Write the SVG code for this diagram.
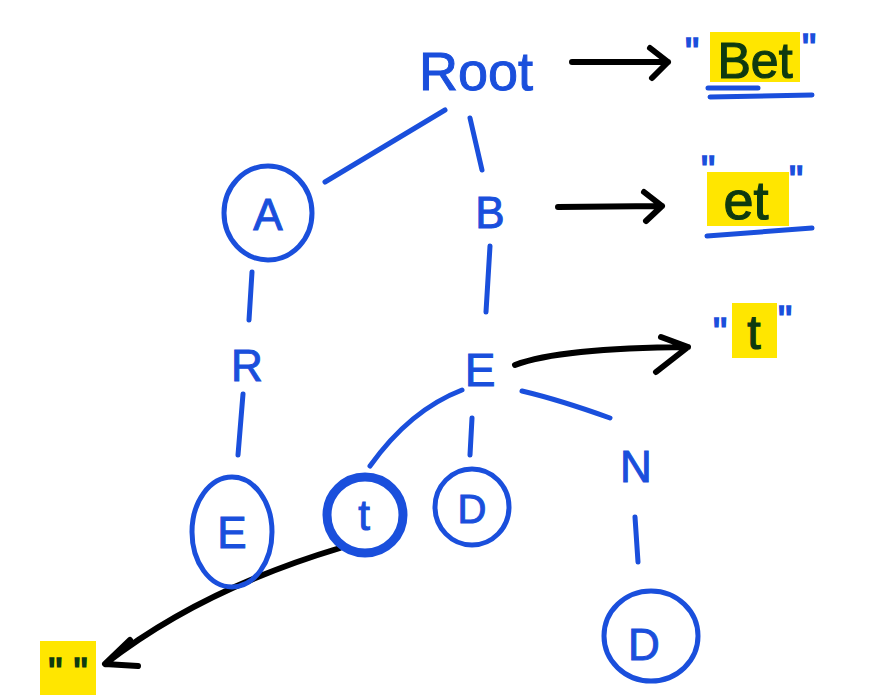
<svg xmlns="http://www.w3.org/2000/svg" width="874" height="698" viewBox="0 0 874 698">
<style>
.ink{fill:none;stroke:#1a4fdc;stroke-width:5;stroke-linecap:round;stroke-linejoin:round}
.thick{fill:none;stroke:#1a4fdc;stroke-width:9}
.blk{fill:none;stroke:#000;stroke-width:6;stroke-linecap:round;stroke-linejoin:round}
.lbl{font-family:"Liberation Sans",Arial,sans-serif;fill:#1a4fdc;stroke:#1a4fdc;stroke-width:1;text-anchor:middle}
.res{font-family:"Liberation Sans",Arial,sans-serif;fill:#0e3a10;stroke:#0e3a10;stroke-width:1.2;text-anchor:middle}
.q{font-family:"Liberation Sans",Arial,sans-serif;fill:#1a4fdc;stroke:#1a4fdc;stroke-width:1.5;text-anchor:middle;font-size:40px}
.hl{fill:#ffe600}
</style>
<rect width="874" height="698" fill="#fff"/>
<g id="connectors">
<path class="ink" d="M445 110 L325 182"/>
<path class="ink" d="M470 118 L482 170"/>
<path class="ink" d="M252 272 L249 320"/>
<path class="ink" d="M490 246 L486 312"/>
<path class="ink" d="M243 394 L238 455"/>
<path class="ink" d="M462 390 Q410 410 370 466"/>
<path class="ink" d="M472 418 L470 455"/>
<path class="ink" d="M522 391 Q560 400 610 418"/>
<path class="ink" d="M635 517 L638 562"/>
<path class="blk" d="M572 62 L668 62 M650 48 L668 62 L652 78"/>
<path class="blk" d="M558 207 L662 206 M644 192 L662 206 L646 221"/>
<path class="blk" d="M515 365 Q560 348 688 347 M661 337 L688 347 L656 372"/>
<path class="blk" d="M340 548 Q200 590 105 664 M130 640 L105 664 L138 666"/>
</g>
<g id="node-root"><text class="lbl" x="476" y="90" font-size="54">Root</text></g>
<g id="node-a"><ellipse class="ink" cx="268" cy="213" rx="44" ry="47"/><text class="lbl" x="268" y="230" font-size="44">A</text></g>
<g id="node-b"><text class="lbl" x="490" y="228" font-size="44">B</text></g>
<g id="node-r"><text class="lbl" x="247" y="381" font-size="44">R</text></g>
<g id="node-e"><text class="lbl" x="480" y="386" font-size="46">E</text></g>
<g id="node-e2"><ellipse class="ink" cx="232" cy="532" rx="40" ry="55"/><text class="lbl" x="232" y="548" font-size="44">E</text></g>
<g id="node-t"><ellipse class="thick" cx="365" cy="515" rx="38" ry="38"/><text class="lbl" x="364" y="530" font-size="42">t</text></g>
<g id="node-d"><ellipse class="ink" cx="472" cy="507" rx="37" ry="38"/><text class="lbl" x="472" y="523" font-size="40">D</text></g>
<g id="node-n"><text class="lbl" x="636" y="482" font-size="44">N</text></g>
<g id="node-d2"><ellipse class="ink" cx="651" cy="636" rx="47" ry="45"/><text class="lbl" x="644" y="660" font-size="44">D</text></g>
<g id="out-bet">
<rect class="hl" x="710" y="32" width="90" height="50"/>
<text class="res" x="755" y="78" font-size="50">Bet</text>
<text class="q" x="692" y="66">"</text><text class="q" x="809" y="62">"</text>
<path class="ink" d="M708 88 L758 88 M710 97 L812 95"/>
</g>
<g id="out-et">
<rect class="hl" x="707" y="172" width="82" height="54"/>
<text class="res" x="746" y="219" font-size="54">et</text>
<text class="q" x="708" y="184">"</text><text class="q" x="796" y="194">"</text>
<path class="ink" d="M707 236 Q760 232 812 228"/>
</g>
<g id="out-t">
<rect class="hl" x="732" y="303" width="45" height="55"/>
<text class="res" x="754" y="349" font-size="48">t</text>
<text class="q" x="720" y="346">"</text><text class="q" x="785" y="334">"</text>
</g>
<g id="out-empty">
<rect class="hl" x="40" y="641" width="56" height="54"/>
<text class="q" x="68" y="686" style="fill:#0e3a10;stroke:#0e3a10">" "</text>
</g>
</svg>
